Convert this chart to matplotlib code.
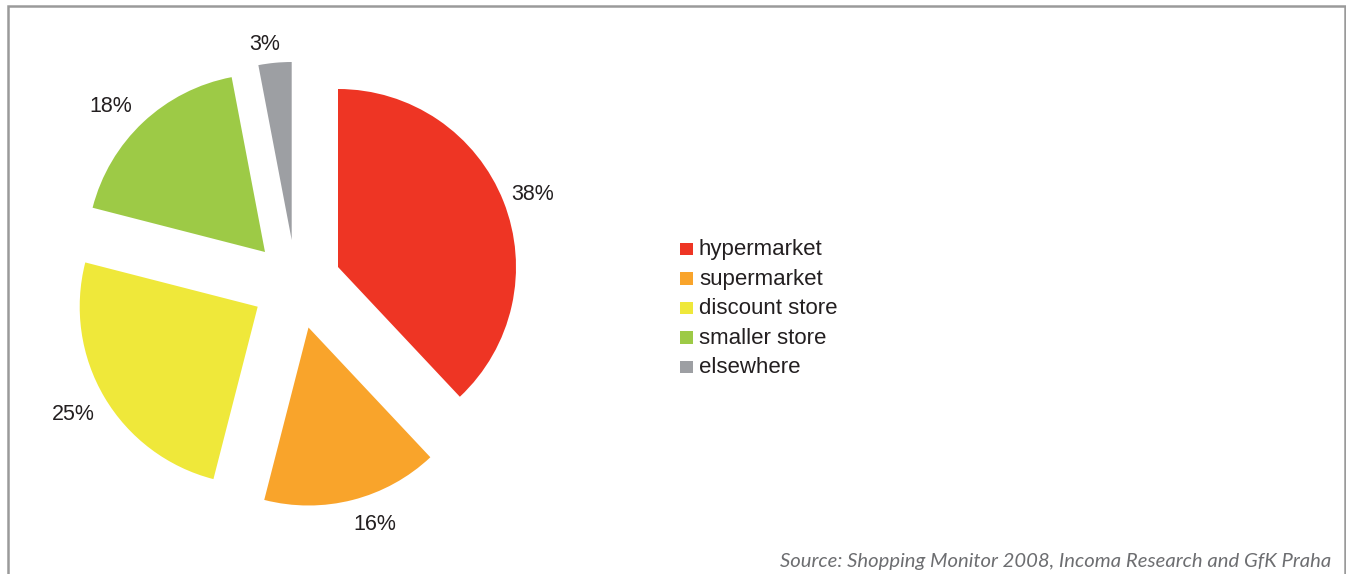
import matplotlib
matplotlib.use("Agg")
import matplotlib.pyplot as plt
from matplotlib.patches import Rectangle

# Where shoppers mostly buy groceries (share of respondents, %)
categories = ["hypermarket", "supermarket", "discount store", "smaller store", "elsewhere"]
shares = [38, 16, 25, 18, 3]
colors = ["#EE3524", "#F9A42B", "#EFE83A", "#9DCA46", "#9D9FA3"]
source_note = "Source: Shopping Monitor 2008, Incoma Research and GfK Praha"

W, H = 1346, 574
fig = plt.figure(figsize=(W / 100, H / 100), dpi=100)
ax = fig.add_axes([0, 0, 1, 1])


def px(x, y):
    """Convert top-left pixel layout to data coordinates (y up)."""
    return x, H - y


# Pie drawn clockwise from 12 o'clock, each wedge pulled apart by hand
wedges, _, pct_texts = ax.pie(
    shares, colors=colors, startangle=90, counterclock=False,
    radius=178, center=(0, 0), autopct=lambda p: f"{p:.0f}%",
    wedgeprops=dict(linewidth=0),
    textprops=dict(fontsize=15.5, family="Liberation Sans", color="#231F20"),
)

wedge_tips = [(338, 267), (308.5, 327.5), (257.7, 306.7), (265, 252), (291.7, 240)]
label_spots = [(533, 195), (375, 524), (73, 415), (111, 106), (265, 44)]
for w, tip in zip(wedges, wedge_tips):
    w.set_center(px(*tip))
for t, spot in zip(pct_texts, label_spots):
    t.set_position(px(*spot))
    t.set_ha("center")
    t.set_va("center")

# Legend: small colour squares with category names
leg_x, leg_y0, leg_step = 680, 249.5, 29.5
for i, (name, c) in enumerate(zip(categories, colors)):
    yc = leg_y0 + i * leg_step
    ax.add_patch(Rectangle(px(leg_x, yc + 5.5), 12.5, 12.5, facecolor=c, edgecolor="none"))
    ax.text(*px(leg_x + 19, yc), name, fontsize=16, family="Liberation Sans",
            color="#231F20", ha="left", va="center")

# Source note, bottom right
ax.text(*px(1331, 561), source_note, fontsize=14.6, family="Lato", style="italic",
        color="#6D6E71", ha="right", va="center")

# Thin grey frame around the chart
ax.add_patch(Rectangle(px(7.5, 620), 1337, 614, facecolor="none",
                       edgecolor="#9A9A9A", linewidth=1.8, clip_on=False))

ax.set_xlim(0, W)
ax.set_ylim(0, H)
ax.set_aspect("equal")
ax.axis("off")

fig.savefig("out.png", dpi=100, facecolor="white")
